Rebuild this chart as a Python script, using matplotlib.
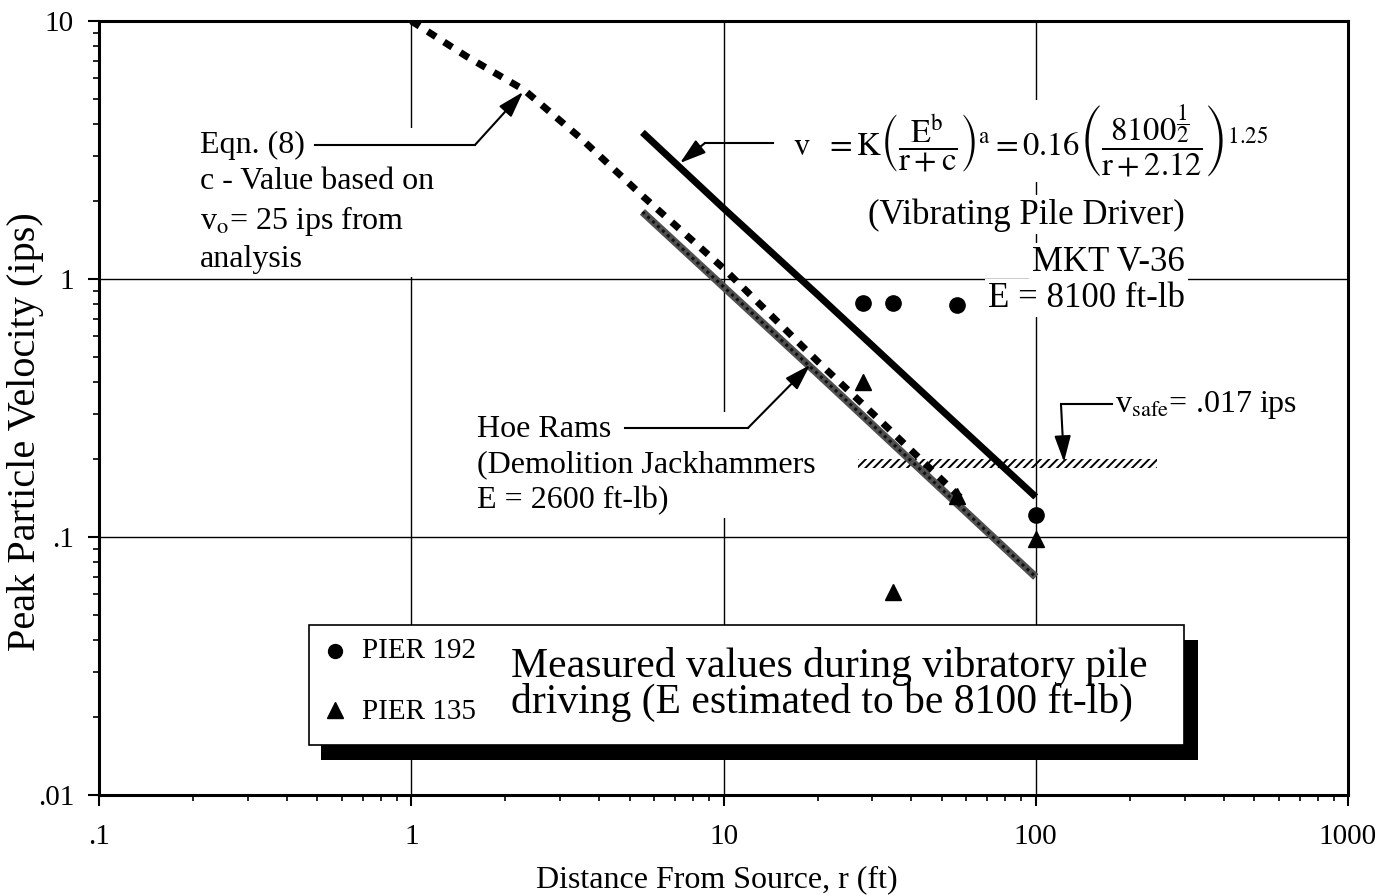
import matplotlib
matplotlib.use("Agg")
import matplotlib.pyplot as plt
from matplotlib.patches import Rectangle
from matplotlib.ticker import FixedLocator, FixedFormatter, LogLocator, NullFormatter

# ---- data (r in ft, v in ips) ----
PILE_R = [5.5, 10, 20, 50, 100]          # vibrating pile driver fit
PILE_V = [3.7, 1.88, 0.87, 0.31, 0.143]

EQN8_R = [1.0, 1.5, 2.3, 3.5, 5.5, 10, 20, 32, 60]   # Eqn. (8)
EQN8_V = [10, 7.3, 5.4, 3.5, 2.1, 1.1, 0.48, 0.28, 0.135]

HOE_R = [5.5, 20, 100]                   # hoe rams
HOE_V = [1.82, 0.43, 0.07]

PIER192_R = [28, 35, 56, 100]
PIER192_V = [0.81, 0.81, 0.79, 0.122]
PIER135_R = [28, 35, 56, 100]
PIER135_V = [0.40, 0.061, 0.144, 0.098]

VSAFE_R = [27, 245]
VSAFE_LEVEL = 0.193

X_TICKS = [0.1, 1, 10, 100, 1000]
X_TICK_LABELS = [".1", "1", "10", "100", "1000"]
Y_TICKS = [0.01, 0.1, 1, 10]
Y_TICK_LABELS = [".01", ".1", "1", "10"]

plt.rcParams.update({
    "font.family": ["Liberation Serif", "DejaVu Serif"],
    "mathtext.fontset": "stix",
    "hatch.linewidth": 1.4,
    "hatch.color": "black",
})

fig = plt.figure(figsize=(13.81, 8.96), dpi=100)
ax = fig.add_axes([0.0717, 0.1127, 0.9044, 0.8639])
ax.set_xscale("log")
ax.set_yscale("log")
ax.set_xlim(0.1, 1000)
ax.set_ylim(0.01, 10)

# axes frame / ticks
for side in ("left", "bottom", "right", "top"):
    ax.spines[side].set_linewidth(2.2)
ax.set_axisbelow(True)
ax.grid(True, which="major", color="black", linewidth=1.0)
ax.grid(False, which="minor")
ax.xaxis.set_major_locator(FixedLocator(X_TICKS))
ax.xaxis.set_major_formatter(FixedFormatter(X_TICK_LABELS))
ax.yaxis.set_major_locator(FixedLocator(Y_TICKS))
ax.yaxis.set_major_formatter(FixedFormatter(Y_TICK_LABELS))
ax.xaxis.set_minor_locator(LogLocator(base=10, subs=range(2, 10)))
ax.yaxis.set_minor_locator(LogLocator(base=10, subs=range(2, 10)))
ax.xaxis.set_minor_formatter(NullFormatter())
ax.yaxis.set_minor_formatter(NullFormatter())
ax.tick_params(which="major", direction="out", length=8, width=1.5,
               labelsize=21, top=False, right=False)
ax.tick_params(axis="x", which="major", pad=13)
ax.tick_params(axis="y", which="major", pad=10)
ax.tick_params(which="minor", direction="out", length=4.5, width=1.2,
               top=False, right=False)

ax.set_xlabel("Distance From Source, r (ft)", fontsize=23)
ax.xaxis.set_label_coords(0.495, -0.11)
ax.xaxis.label.set_va("center")
ax.set_ylabel("Peak Particle Velocity (ips)", fontsize=29)
ax.yaxis.set_label_coords(-0.059, 0.47)
ax.yaxis.label.set_va("center")

# ---- curves ----
ax.plot(HOE_R, HOE_V, color="#505050", linewidth=5.5, solid_capstyle="butt", zorder=4)
ax.plot(HOE_R, HOE_V, color="#111111", linewidth=2.2, linestyle=(0, (1, 1.2)), zorder=4)
ax.plot(EQN8_R, EQN8_V, color="black", linewidth=5, linestyle=(0, (1.4, 1.4)),
        dash_capstyle="butt", zorder=5)
ax.plot(PILE_R, PILE_V, color="black", linewidth=5, solid_capstyle="butt", zorder=5)

ax.plot(PIER192_R, PIER192_V, "o", color="black", markersize=11, zorder=6)
ax.plot(PIER135_R, PIER135_V, "^", color="black", markersize=12, zorder=6)

# v_safe hatched band
ax.fill_between(VSAFE_R, VSAFE_LEVEL * 10 ** -0.018, VSAFE_LEVEL * 10 ** 0.018,
                facecolor="none", edgecolor="black", hatch="////", linewidth=0, zorder=3)

# ---- annotations ----
white = dict(facecolor="white", edgecolor="none", pad=2)
arrow = dict(arrowstyle="-|>,head_length=0.8,head_width=0.25", color="black",
             linewidth=1.5, shrinkA=0, shrinkB=0, mutation_scale=20)


def leader(points, tip):
    xs, ys = zip(*points)
    ax.plot(xs, ys, transform=ax.transAxes, color="black", linewidth=1.5,
            clip_on=False, zorder=7)
    ax.annotate("", xy=tip, xycoords="axes fraction", xytext=points[-1],
                textcoords="axes fraction", arrowprops=arrow, zorder=7)


ax.text(0.0809, 0.858,
        "Eqn. (8)\nc - Value based on\nv$_\\mathrm{o}$= 25 ips from\nanalysis",
        transform=ax.transAxes, fontsize=23, va="top", ha="left",
        linespacing=1.32, bbox=white, zorder=1)
leader([(0.1729, 0.8398), (0.3010, 0.8398)], (0.3395, 0.9083))

ax.text(0.556, 0.845,
        r"$\mathrm{v\ \ =K}\left(\dfrac{\mathrm{E}^{\mathrm{b}}}{\mathrm{r + c}}\right)^{\mathrm{a}}"
        r" = 0.16\left(\dfrac{8100^{\dfrac{1}{2}}}{\mathrm{r + 2.12}}\right)^{1.25}$",
        transform=ax.transAxes, fontsize=23.5, va="center", ha="left",
        bbox=white, zorder=1)
leader([(0.5396, 0.8424), (0.4852, 0.8424)], (0.4652, 0.8165))

ax.text(0.7422, 0.7494, "(Vibrating Pile Driver)", transform=ax.transAxes,
        fontsize=25, va="center", ha="center", bbox=white, zorder=1)
ax.text(0.8695, 0.6886, "MKT V-36", transform=ax.transAxes,
        fontsize=25, va="center", ha="right", bbox=white, zorder=1)
ax.text(0.8695, 0.6421, "E = 8100 ft-lb", transform=ax.transAxes,
        fontsize=25, va="center", ha="right", bbox=white, zorder=1)

ax.text(0.3026, 0.4910, "Hoe Rams\n(Demolition Jackhammers\nE = 2600 ft-lb)",
        transform=ax.transAxes, fontsize=23, va="top", ha="left",
        linespacing=1.3, bbox=white, zorder=1)
leader([(0.4211, 0.4742), (0.5196, 0.4742)], (0.5693, 0.5556))

ax.text(0.8135, 0.5039, r"v$_\mathrm{safe}$= .017 ips", transform=ax.transAxes,
        fontsize=23, va="center", ha="left", zorder=1)
leader([(0.8110, 0.5052), (0.7702, 0.5052)], (0.7726, 0.4302))

# ---- legend box with drop shadow ----
ax.add_patch(Rectangle((0.1777, 0.0452), 0.7022, 0.1551, transform=ax.transAxes,
                       facecolor="black", edgecolor="none", zorder=8))
ax.add_patch(Rectangle((0.1681, 0.0646), 0.7006, 0.1550, transform=ax.transAxes,
                       facecolor="white", edgecolor="black", linewidth=1.2, zorder=9))
ax.plot([0.189], [0.1857], "o", color="black", markersize=10,
        transform=ax.transAxes, zorder=10)
ax.plot([0.189], [0.1098], "^", color="black", markersize=11,
        transform=ax.transAxes, zorder=10)
ax.text(0.2106, 0.1857, "PIER 192", transform=ax.transAxes, fontsize=21,
        va="center", ha="left", zorder=10)
ax.text(0.2106, 0.1070, "PIER 135", transform=ax.transAxes, fontsize=21,
        va="center", ha="left", zorder=10)
ax.text(0.3299, 0.1434,
        "Measured values during vibratory pile\ndriving (E estimated to be 8100 ft-lb)",
        transform=ax.transAxes, fontsize=30, va="center", ha="left",
        linespacing=0.9, zorder=10)

fig.savefig("out.png", dpi=100)
